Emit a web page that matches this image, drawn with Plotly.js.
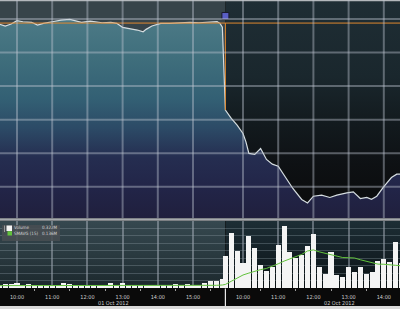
<!DOCTYPE html>
<html><head><meta charset="utf-8">
<script src="https://cdn.plot.ly/plotly-3.0.1.min.js"></script>
<style>html,body{margin:0;padding:0;background:#0a0a0a;overflow:hidden}#chart{width:400px;height:309px}</style>
</head><body><div id="chart"></div>
<script>
// ---------------- data ----------------
const day1Label = "01 Oct 2012";
const day2Label = "02 Oct 2012";

const priceTimes1 = ["09:30","09:40","09:50","10:00","10:10","10:25","10:35","10:45","11:00","11:15","11:30","11:40","11:50","12:05","12:15","12:25","12:40","12:50","13:00","13:10","13:25","13:35","13:40","13:50","14:05","14:20","14:35","14:55","15:10","15:30","15:41","15:46","15:50"];
const prices1 = [27.925,27.896,27.925,27.975,27.960,27.951,27.910,27.936,27.960,27.985,27.996,27.975,27.951,27.970,27.955,27.945,27.951,27.936,27.876,27.861,27.836,27.810,27.846,27.896,27.936,27.936,27.945,27.951,27.945,27.955,27.960,27.936,27.880];

const priceTimes2 = ["09:30","09:40","09:50","10:00","10:05","10:10","10:20","10:30","10:40","10:50","11:00","11:10","11:25","11:40","11:50","12:00","12:14","12:28","12:40","12:57","13:08","13:20","13:31","13:39","13:48","13:59","14:13","14:22","14:28"];
const prices2 = [26.642,26.518,26.418,26.294,26.169,25.996,25.981,26.070,25.906,25.836,25.806,25.672,25.473,25.309,25.258,25.358,25.373,25.339,25.373,25.407,25.422,25.324,25.339,25.313,25.358,25.488,25.637,25.687,25.687];

const prevClose = 27.94;
const eventTime2 = "09:30";
const eventLevel = 28.045;

const barTimes1 = ["09:30","09:40","09:50","10:00","10:10","10:20","10:30","10:40","10:50","11:00","11:10","11:20","11:30","11:40","11:50","12:00","12:10","12:20","12:30","12:40","12:50","13:00","13:10","13:20","13:30","13:40","13:50","14:00","14:10","14:20","14:30","14:40","14:50","15:00","15:10","15:20","15:30","15:40","15:50"];
const volume1 = [0.022,0.027,0.027,0.036,0.022,0.029,0.018,0.018,0.018,0.020,0.020,0.034,0.029,0.018,0.018,0.018,0.018,0.022,0.022,0.032,0.018,0.034,0.020,0.018,0.018,0.018,0.018,0.018,0.020,0.018,0.025,0.018,0.025,0.018,0.022,0.034,0.047,0.047,0.060];
const smavg1 = [0.016,0.016,0.016,0.017,0.017,0.016,0.016,0.015,0.015,0.015,0.015,0.015,0.015,0.015,0.014,0.014,0.014,0.014,0.014,0.014,0.014,0.014,0.014,0.014,0.014,0.014,0.014,0.013,0.013,0.013,0.013,0.013,0.013,0.013,0.014,0.015,0.016,0.018,0.020];

const barTimes2 = ["09:30","09:40","09:50","10:00","10:10","10:20","10:30","10:40","10:50","11:00","11:10","11:20","11:30","11:40","11:50","12:00","12:10","12:20","12:30","12:40","12:50","13:00","13:10","13:20","13:30","13:40","13:50","14:00","14:10","14:20","14:30"];
const volume2 = [0.215,0.368,0.251,0.166,0.345,0.271,0.155,0.114,0.143,0.289,0.412,0.244,0.204,0.222,0.284,0.363,0.139,0.094,0.244,0.087,0.074,0.139,0.106,0.143,0.092,0.110,0.181,0.193,0.173,0.311,0.168];
const smavg2 = [0.024,0.045,0.068,0.087,0.100,0.114,0.123,0.131,0.145,0.162,0.180,0.195,0.207,0.225,0.248,0.255,0.242,0.232,0.222,0.210,0.204,0.203,0.201,0.189,0.180,0.168,0.160,0.159,0.158,0.152,0.149];

const tickTimes1 = ["10:00","11:00","12:00","13:00","14:00","15:00"];
const tickTimes2 = ["10:00","11:00","12:00","13:00","14:00"];
const halfTimes1 = ["10:30","11:30","12:30","13:30","14:30","15:30"];
const halfTimes2 = ["10:30","11:30","12:30","13:30"];
const priceLevels = [28.0,27.5,27.0,26.5,26.0,25.5];

const legendNames = ["Volume","SMAVG (15)"];
const legendValues = ["0.322M","0.136M"];

// ---------------- layout helpers ----------------
const W = 400, H = 309;
const OPEN = 9.5, DAY2_OFFSET = 6.42;
function toX(day, t){ const p = t.split(':').map(Number); return p[0] + p[1]/60 - OPEN + (day === 2 ? DAY2_OFFSET : 0); }
const py = v => 1 - v / H;       // pixel row -> paper y
const xr = [0.017, 11.38];
const yr = [25.03, 28.284];
const vr = [0, 0.45];
const day2Open = toX(2, "09:30");

function gradURI(stops){
  const s = stops.map(st => `<stop offset='${st[0]}' stop-color='${st[1]}'/>`).join('');
  const svg = `<svg xmlns='http://www.w3.org/2000/svg' viewBox='0 0 10 100' width='10' height='100' preserveAspectRatio='none'><defs><linearGradient id='g' x1='0' y1='0' x2='0' y2='1'>${s}</linearGradient></defs><rect width='10' height='100' fill='url(#g)'/></svg>`;
  return 'data:image/svg+xml;charset=utf-8,' + encodeURIComponent(svg);
}

const px1 = priceTimes1.map(t => toX(1, t));
const px2 = priceTimes2.map(t => toX(2, t));
const bx1 = barTimes1.map(t => toX(1, t));
const bx2 = barTimes2.map(t => toX(2, t));
const tickX = tickTimes1.map(t => toX(1, t)).concat(tickTimes2.map(t => toX(2, t)));
const tickText = tickTimes1.concat(tickTimes2);
const halfX = halfTimes1.map(t => toX(1, t)).concat(halfTimes2.map(t => toX(2, t)));

const FONT = "DejaVu Sans Condensed, DejaVu Sans, sans-serif";
const gridCol = "rgba(190,198,210,0.42)";

const traces = [
  { // price with gradient fill
    type: 'scatter', mode: 'lines', x: px1.concat(px2), y: prices1.concat(prices2),
    xaxis: 'x', yaxis: 'y', fill: 'tozeroy',
    fillgradient: { type: 'vertical', start: yr[0], stop: 28.0,
      colorscale: [[0,'#201f3d'],[0.15,'#222548'],[0.3,'#252d50'],[0.45,'#2c4a66'],[0.6,'#336074'],[0.8,'#3f6e7c'],[1,'#4c7a86']] },
    line: { color: '#d5dde0', width: 1.2 }, hoverinfo: 'skip', showlegend: false
  },
  { // previous close reference and gap line
    type: 'scatter', mode: 'lines',
    x: [xr[0], xr[1], null, day2Open, day2Open],
    y: [prevClose, prevClose, null, prevClose, prices2[0]],
    xaxis: 'x', yaxis: 'y', line: { color: '#e0892e', width: 1 }, hoverinfo: 'skip', showlegend: false
  },
  { // event marker
    type: 'scatter', mode: 'markers', x: [toX(2, eventTime2)], y: [eventLevel],
    xaxis: 'x', yaxis: 'y', marker: { symbol: 'square', size: 7, color: '#5a5ec4', line: { color: '#1a1a2a', width: 1 } },
    hoverinfo: 'skip', showlegend: false
  },
  { // volume bars
    type: 'bar', x: bx1.concat(bx2), y: volume1.concat(volume2), width: 0.145,
    xaxis: 'x2', yaxis: 'y2', marker: { color: '#f4f4f4', line: { width: 0 } }, name: legendNames[0],
    hoverinfo: 'skip', showlegend: false
  },
  { // moving average
    type: 'scatter', mode: 'lines', x: bx1.concat(bx2), y: smavg1.concat(smavg2),
    xaxis: 'x2', yaxis: 'y2', line: { color: '#62c23c', width: 1 }, name: legendNames[1],
    hoverinfo: 'skip', showlegend: false
  }
];

const shapes = [
  { type: 'rect', xref: 'x', yref: 'y', x0: xr[0] - 1, x1: day2Open, y0: yr[0], y1: yr[1], fillcolor: '#37444a', line: { width: 0 }, layer: 'below' },
  // panel frame bits
  { type: 'rect', xref: 'paper', yref: 'paper', x0: 0, x1: 1, y0: py(1.2), y1: 1, fillcolor: '#b4b8bc', line: { width: 0 }, layer: 'above' },
  { type: 'rect', xref: 'paper', yref: 'paper', x0: 0, x1: 1, y0: py(220.8), y1: py(218.2), fillcolor: '#a4a8ac', line: { width: 0 }, layer: 'above' },
  { type: 'rect', xref: 'paper', yref: 'paper', x0: 0, x1: 1, y0: 0, y1: py(306), fillcolor: '#d9d9d9', line: { width: 0 }, layer: 'above' },
  { type: 'line', xref: 'x2', yref: 'paper', x0: day2Open, x1: day2Open, y0: py(306), y1: py(288.5), line: { color: '#e8e8e8', width: 1.2 }, layer: 'above' },
  // legend box
  { type: 'rect', xref: 'paper', yref: 'paper', x0: 2/W, x1: 60/W, y0: py(241), y1: py(225), fillcolor: 'rgba(72,77,82,0.88)', line: { width: 0 }, layer: 'above' },
  { type: 'rect', xref: 'paper', yref: 'paper', x0: 4/W, x1: 5/W, y0: py(232), y1: py(225.5), fillcolor: '#9a9a9a', line: { width: 0 }, layer: 'above' },
  { type: 'rect', xref: 'paper', yref: 'paper', x0: 6.5/W, x1: 12/W, y0: py(231), y1: py(225.5), fillcolor: '#f4f4f4', line: { width: 0 }, layer: 'above' },
  { type: 'rect', xref: 'paper', yref: 'paper', x0: 7.5/W, x1: 12/W, y0: py(235.5), y1: py(231.2), fillcolor: '#62c23c', line: { width: 0 }, layer: 'above' }
];
tickX.forEach(x => shapes.push({ type: 'line', xref: 'x', yref: 'y', x0: x, x1: x, y0: yr[0], y1: yr[1], line: { color: gridCol, width: 2 }, layer: 'above' }));
priceLevels.forEach(v => shapes.push({ type: 'line', xref: 'x', yref: 'y', x0: xr[0] - 1, x1: xr[1] + 1, y0: v, y1: v, line: { color: gridCol, width: 2 }, layer: 'above' }));

const images = [
  { source: gradURI([[0,'#1f2e35'],[0.35,'#1a272d'],[0.55,'#131b1f'],[0.75,'#0e1114'],[1,'#0a0a0a']]),
    xref: 'x', yref: 'y', x: day2Open, y: yr[1], sizex: xr[1] - day2Open + 0.5, sizey: yr[1] - yr[0],
    sizing: 'stretch', xanchor: 'left', yanchor: 'top', layer: 'below' },
  { source: gradURI([[0,'#36484f'],[0.5,'#2a3a40'],[1,'#1b272c']]),
    xref: 'x2', yref: 'y2', x: xr[0] - 0.5, y: vr[1], sizex: day2Open - xr[0] + 0.5, sizey: vr[1] - vr[0],
    sizing: 'stretch', xanchor: 'left', yanchor: 'top', layer: 'below' },
  { source: gradURI([[0,'#1d2e35'],[0.5,'#142026'],[1,'#0a1113']]),
    xref: 'x2', yref: 'y2', x: day2Open, y: vr[1], sizex: xr[1] - day2Open + 0.5, sizey: vr[1] - vr[0],
    sizing: 'stretch', xanchor: 'left', yanchor: 'top', layer: 'below' }
];

const txt = { family: FONT, size: 4.5, color: '#d6d6d6' };
const annotations = [
  { text: day1Label, xref: 'x2', yref: 'paper', x: (113 + 0.6) / 35.2, y: py(302.5), showarrow: false, font: { family: FONT, size: 5.5, color: '#cfcfcf' }, xanchor: 'center', yanchor: 'middle' },
  { text: day2Label, xref: 'x2', yref: 'paper', x: (339 + 0.6) / 35.2, y: py(302.5), showarrow: false, font: { family: FONT, size: 5.5, color: '#cfcfcf' }, xanchor: 'center', yanchor: 'middle' },
  { text: legendNames[0], xref: 'paper', yref: 'paper', x: 13/W, y: py(227.8), showarrow: false, font: txt, xanchor: 'left', yanchor: 'middle', borderpad: 0 },
  { text: legendValues[0], xref: 'paper', yref: 'paper', x: 58.5/W, y: py(227.8), showarrow: false, font: txt, xanchor: 'right', yanchor: 'middle', borderpad: 0 },
  { text: legendNames[1], xref: 'paper', yref: 'paper', x: 13/W, y: py(233.8), showarrow: false, font: txt, xanchor: 'left', yanchor: 'middle', borderpad: 0 },
  { text: legendValues[1], xref: 'paper', yref: 'paper', x: 58.5/W, y: py(233.8), showarrow: false, font: txt, xanchor: 'right', yanchor: 'middle', borderpad: 0 }
];

const layout = {
  width: W, height: H, margin: { l: 0, r: 0, t: 0, b: 0, pad: 0 },
  paper_bgcolor: '#0a0a0a', plot_bgcolor: 'rgba(0,0,0,0)', showlegend: false,
  bargap: 0,
  xaxis: { domain: [0, 1], range: xr, anchor: 'y', showgrid: false, zeroline: false, showticklabels: false, ticks: '', showline: false, fixedrange: true },
  yaxis: { domain: [py(218.2), 1], range: yr, anchor: 'x', showgrid: false, zeroline: false, showticklabels: false, ticks: '', showline: false, fixedrange: true },
  xaxis2: { domain: [0, 1], range: xr, anchor: 'y2', tickmode: 'array', tickvals: tickX, ticktext: tickText,
    showgrid: true, gridcolor: gridCol, gridwidth: 2, zeroline: false, showline: false,
    ticks: '', ticklabelstandoff: 4, tickfont: { family: FONT, size: 5.5, color: '#d0d0d0' },
    minor: { tickmode: 'array', tickvals: halfX, ticks: 'outside', ticklen: 2, tickcolor: '#9a9a9a', showgrid: false },
    fixedrange: true },
  yaxis2: { domain: [py(288), py(220.8)], range: vr, anchor: 'x2', dtick: 0.05, showgrid: true, gridcolor: 'rgba(150,165,175,0.32)', gridwidth: 1,
    zeroline: false, showticklabels: false, ticks: '', showline: false, fixedrange: true },
  shapes: shapes, images: images, annotations: annotations
};

Plotly.newPlot('chart', traces, layout, { staticPlot: true, displayModeBar: false });
</script>
</body></html>
